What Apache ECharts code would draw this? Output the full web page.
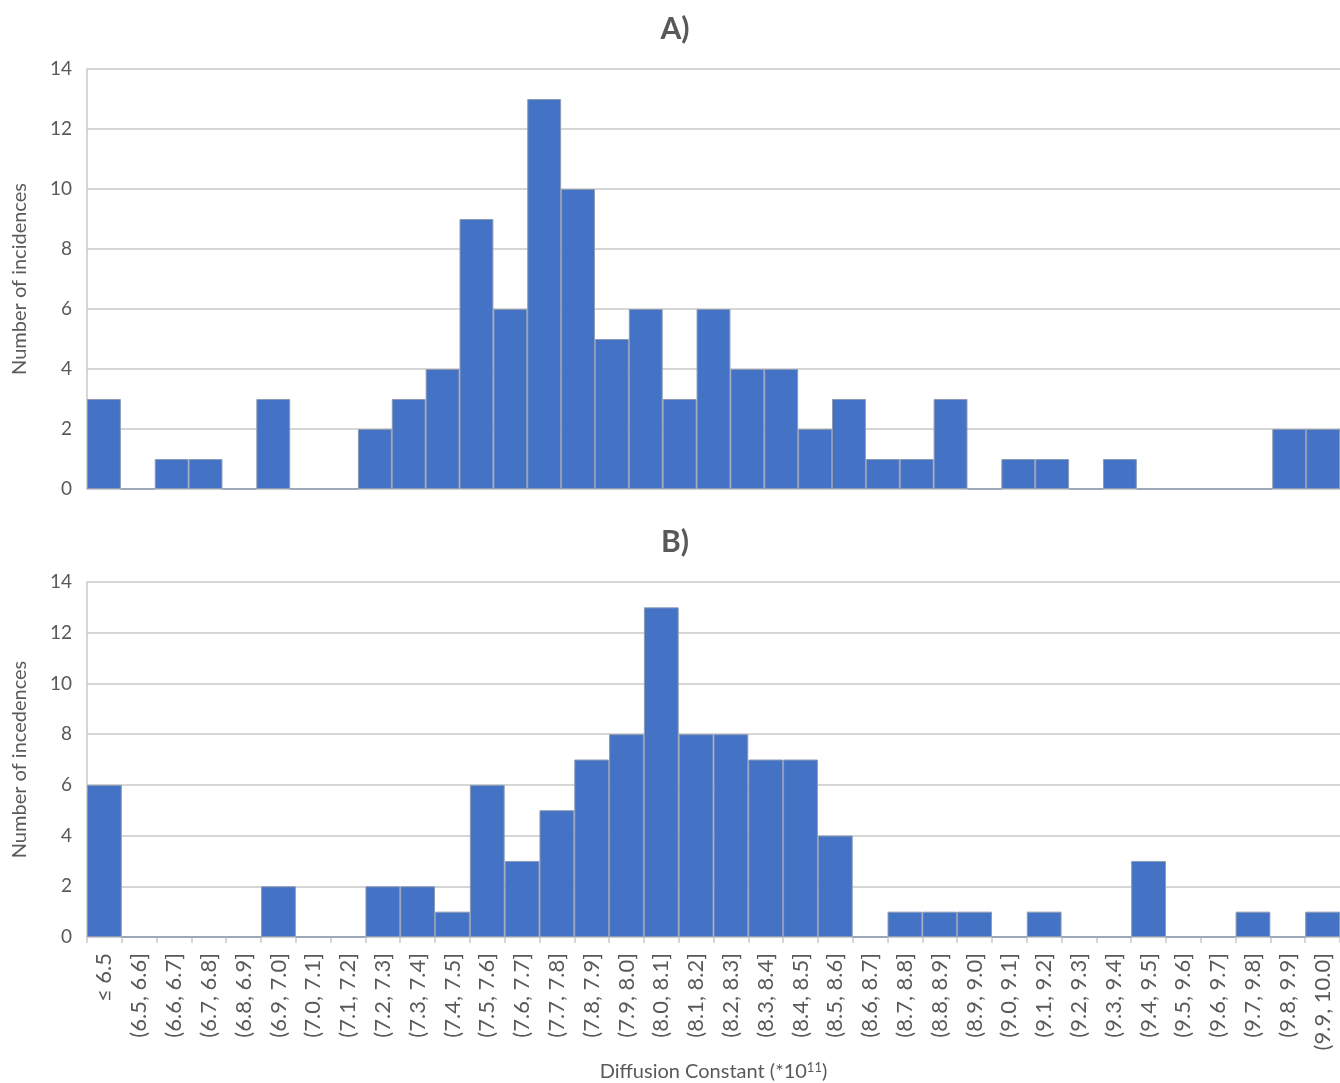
<!DOCTYPE html>
<html>
<head>
<meta charset="utf-8">
<script src="https://cdn.jsdelivr.net/npm/echarts@6/dist/echarts.min.js"></script>
<style>
  html, body { margin: 0; padding: 0; background: #fff; }
  #chart { width: 1340px; height: 1083px; }
</style>
</head>
<body>
<div id="chart"></div>
<script>
// Histogram bins of the diffusion constant (×10^11)
const binsB = ['≤ 6.5', '(6.5, 6.6]', '(6.6, 6.7]', '(6.7, 6.8]', '(6.8, 6.9]', '(6.9, 7.0]',
  '(7.0, 7.1]', '(7.1, 7.2]', '(7.2, 7.3]', '(7.3, 7.4]', '(7.4, 7.5]', '(7.5, 7.6]',
  '(7.6, 7.7]', '(7.7, 7.8]', '(7.8, 7.9]', '(7.9, 8.0]', '(8.0, 8.1]', '(8.1, 8.2]',
  '(8.2, 8.3]', '(8.3, 8.4]', '(8.4, 8.5]', '(8.5, 8.6]', '(8.6, 8.7]', '(8.7, 8.8]',
  '(8.8, 8.9]', '(8.9, 9.0]', '(9.0, 9.1]', '(9.1, 9.2]', '(9.2, 9.3]', '(9.3, 9.4]',
  '(9.4, 9.5]', '(9.5, 9.6]', '(9.6, 9.7]', '(9.7, 9.8]', '(9.8, 9.9]', '(9.9, 10.0]'];
const binsA = binsB.concat(['> 10.0']);

// Counts per bin
const countsA = [3, 0, 1, 1, 0, 3, 0, 0, 2, 3, 4, 9, 6, 13, 10, 5, 6, 3, 6, 4, 4, 2, 3, 1, 1, 3,
  0, 1, 1, 0, 1, 0, 0, 0, 0, 2, 2];
const countsB = [6, 0, 0, 0, 0, 2, 0, 0, 2, 2, 1, 6, 3, 5, 7, 8, 13, 8, 8, 7, 7, 4, 0, 1, 1, 1,
  0, 1, 0, 0, 3, 0, 0, 1, 0, 1];

const yTicks = [0, 2, 4, 6, 8, 10, 12, 14];

const titles = ['A)', 'B)'];
const yNames = ['Number of incidences', 'Number of incedences'];

const FONT = 'Lato, "Open Sans", sans-serif';
const TXT = '#595959';
const GRID_LINE = '#c9c9c9';

const chart = echarts.init(document.getElementById('chart'), null, { renderer: 'canvas' });

const yAxisCommon = {
  type: 'value',
  min: yTicks[0],
  max: yTicks[yTicks.length - 1],
  interval: yTicks[1] - yTicks[0],
  axisLine: { show: true, lineStyle: { color: GRID_LINE, width: 1.5 } },
  axisTick: { show: false },
  splitLine: { lineStyle: { color: GRID_LINE, width: 1.5 } },
  axisLabel: { color: TXT, fontSize: 19, fontFamily: FONT, margin: 15 },
  nameLocation: 'middle',
  nameGap: 57,
  nameTextStyle: { color: TXT, fontSize: 20, fontFamily: FONT }
};

const barStyle = { color: '#4472c4', borderColor: '#8d9bb5', borderWidth: 1 };

chart.setOption({
  animation: false,
  title: [
    { text: titles[0], left: 670, top: 9, textAlign: 'center',
      textStyle: { color: TXT, fontSize: 30, fontWeight: 'bold', fontFamily: FONT } },
    { text: titles[1], left: 670, top: 522, textAlign: 'center',
      textStyle: { color: TXT, fontSize: 30, fontWeight: 'bold', fontFamily: FONT } }
  ],
  grid: [
    { left: 87, right: 0, top: 69, height: 420 },
    { left: 87, right: 0, top: 582, height: 356 }
  ],
  xAxis: [
    {
      type: 'category', gridIndex: 0, data: binsA,
      axisLine: { lineStyle: { color: GRID_LINE, width: 1.5 } },
      axisTick: { show: false },
      axisLabel: { show: false }
    },
    {
      type: 'category', gridIndex: 1, data: binsB,
      axisLine: { lineStyle: { color: GRID_LINE, width: 1.5 } },
      axisTick: { show: true, length: 6, lineStyle: { color: GRID_LINE, width: 1.5 } },
      axisLabel: { color: TXT, fontSize: 22, fontFamily: FONT, rotate: 90, margin: 16, interval: 0 },
      name: 'Diffusion Constant (*10{sup|11})',
      nameLocation: 'middle',
      nameGap: 124,
      nameTextStyle: {
        color: TXT, fontSize: 20, fontFamily: FONT,
        rich: { sup: { fontSize: 13, verticalAlign: 'top', color: TXT, fontFamily: FONT, padding: [0, 0, 9, 0] } }
      }
    }
  ],
  yAxis: [
    Object.assign({}, yAxisCommon, { gridIndex: 0, name: yNames[0] }),
    Object.assign({}, yAxisCommon, { gridIndex: 1, name: yNames[1] })
  ],
  series: [
    { type: 'bar', xAxisIndex: 0, yAxisIndex: 0, data: countsA, barCategoryGap: 0, itemStyle: barStyle },
    { type: 'bar', xAxisIndex: 1, yAxisIndex: 1, data: countsB, barCategoryGap: 0, itemStyle: barStyle }
  ]
});
</script>
</body>
</html>
